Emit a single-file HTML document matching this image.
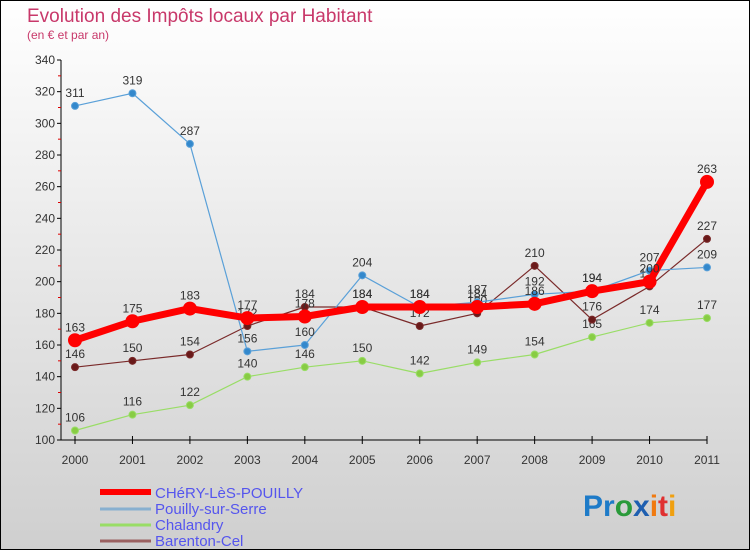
<!DOCTYPE html>
<html><head><meta charset="utf-8"><style>
body{margin:0;width:750px;height:550px;overflow:hidden;font-family:"Liberation Sans",sans-serif}
svg{display:block}
</style></head><body>
<svg id="c" width="750" height="550" xmlns="http://www.w3.org/2000/svg">
<defs><linearGradient id="bg" x1="0" y1="0" x2="0" y2="1"><stop offset="0" stop-color="#ffffff"/><stop offset="1" stop-color="#cfcfcf"/></linearGradient></defs>
<rect x="0.5" y="0.5" width="749" height="549" fill="url(#bg)" stroke="#000"/>
<text x="27" y="22" font-size="19" fill="#c8386a">Evolution des Impôts locaux par Habitant</text>
<text x="27" y="39" font-size="12" fill="#c8386a">(en € et par an)</text>
<g id="axes"></g><g id="series"></g><g id="legend"></g>
<text x="583" y="516" font-size="30" font-weight="bold" fill="#1e7bc8">Pr<tspan fill="#2a9a3a">o</tspan><tspan fill="#1e5fb0">x</tspan><tspan fill="#f07a10">i</tspan><tspan fill="#e03030">t</tspan><tspan fill="#f0a010">i</tspan></text>
</svg>
<script>
const years=["2000","2001","2002","2003","2004","2005","2006","2007","2008","2009","2010","2011"];
const chery=[163,175,183,177,178,184,184,184,186,194,200,263];
const pouilly=[311,319,287,156,160,204,184,187,192,194,207,209];
const chalandry=[106,116,122,140,146,150,142,149,154,165,174,177];
const barenton=[146,150,154,172,184,184,172,180,210,176,197,227];
const yTicks=[100,120,140,160,180,200,220,240,260,280,300,320,340];
const NS="http://www.w3.org/2000/svg";
const x=i=>75+i*(707-75)/11;
const y=v=>440-(v-100)*(380/240);
function mk(tag,attrs,parent,txt){const e=document.createElementNS(NS,tag);for(const k in attrs)e.setAttribute(k,attrs[k]);if(txt!==undefined)e.textContent=txt;parent.appendChild(e);return e;}
const ax=document.getElementById('axes');
let e=mk('line',{x1:61,y1:60,x2:61,y2:440,stroke:'#000'},ax);


e=mk('line',{x1:61,y1:440,x2:707,y2:440,stroke:'#000'},ax);


yTicks.forEach((t,i)=>{
  mk('line',{x1:57,y1:y(t),x2:61,y2:y(t),stroke:'#000'},ax);
  if(i<yTicks.length-1)mk('line',{x1:58,y1:y(t+10),x2:61,y2:y(t+10),stroke:'#d00'},ax);
  const l=mk('text',{x:55,y:y(t)+4,'font-size':12,'text-anchor':'end',fill:'#333'},ax,t);
  
  
});
years.forEach((yr,i)=>{
  mk('line',{x1:x(i),y1:436,x2:x(i),y2:444,stroke:'#000'},ax);
  const l=mk('text',{x:x(i),y:464,'font-size':12,'text-anchor':'middle',fill:'#333'},ax,yr);
  
  
});
const sg=document.getElementById('series');
function series(data,name,color,dot,w,r){
  const g=mk('g',{},sg);
  
  
  mk('polyline',{points:data.map((v,i)=>x(i)+','+y(v)).join(' '),fill:'none',stroke:color,'stroke-width':w,'stroke-linejoin':'round'},g);
  data.forEach((v,i)=>{
    const c=mk('circle',{cx:x(i),cy:y(v),r:r,fill:dot,stroke:color,'stroke-width':1},g);
    
    
    const t=mk('text',{x:x(i),y:y(v)-9,'font-size':12,'text-anchor':'middle',fill:'#333'},g,v);
    
    
  });
}
series(chalandry,'chalandry','#99dd66','#88cc44',1.2,3.5);
series(barenton,'barenton-cel','#7a2a2a','#6a1a1a',1.2,3.5);
series(pouilly,'pouilly-sur-serre','#5aa0d8','#3388cc',1.2,3.5);
series(chery,'chery-les-pouilly','#ff0000','#ff0000',7,6.5);
const lg=document.getElementById('legend');
const items=[["CHéRY-LèS-POUILLY","#ff0000",6],["Pouilly-sur-Serre","#88b0d0",3],["Chalandry","#99dd66",3],["Barenton-Cel","#9a6060",3]];
items.forEach((it,i)=>{
  const yy=492+i*16;
  const g=mk('g',{},lg);
  
  
  mk('line',{x1:100,y1:yy+(i==0?0:1),x2:151,y2:yy+(i==0?0:1),stroke:it[1],'stroke-width':it[2]},g);
  mk('text',{x:155,y:yy+6,'font-size':15,fill:'#5555ee'},g,it[0]);
});
</script>
</body></html>
